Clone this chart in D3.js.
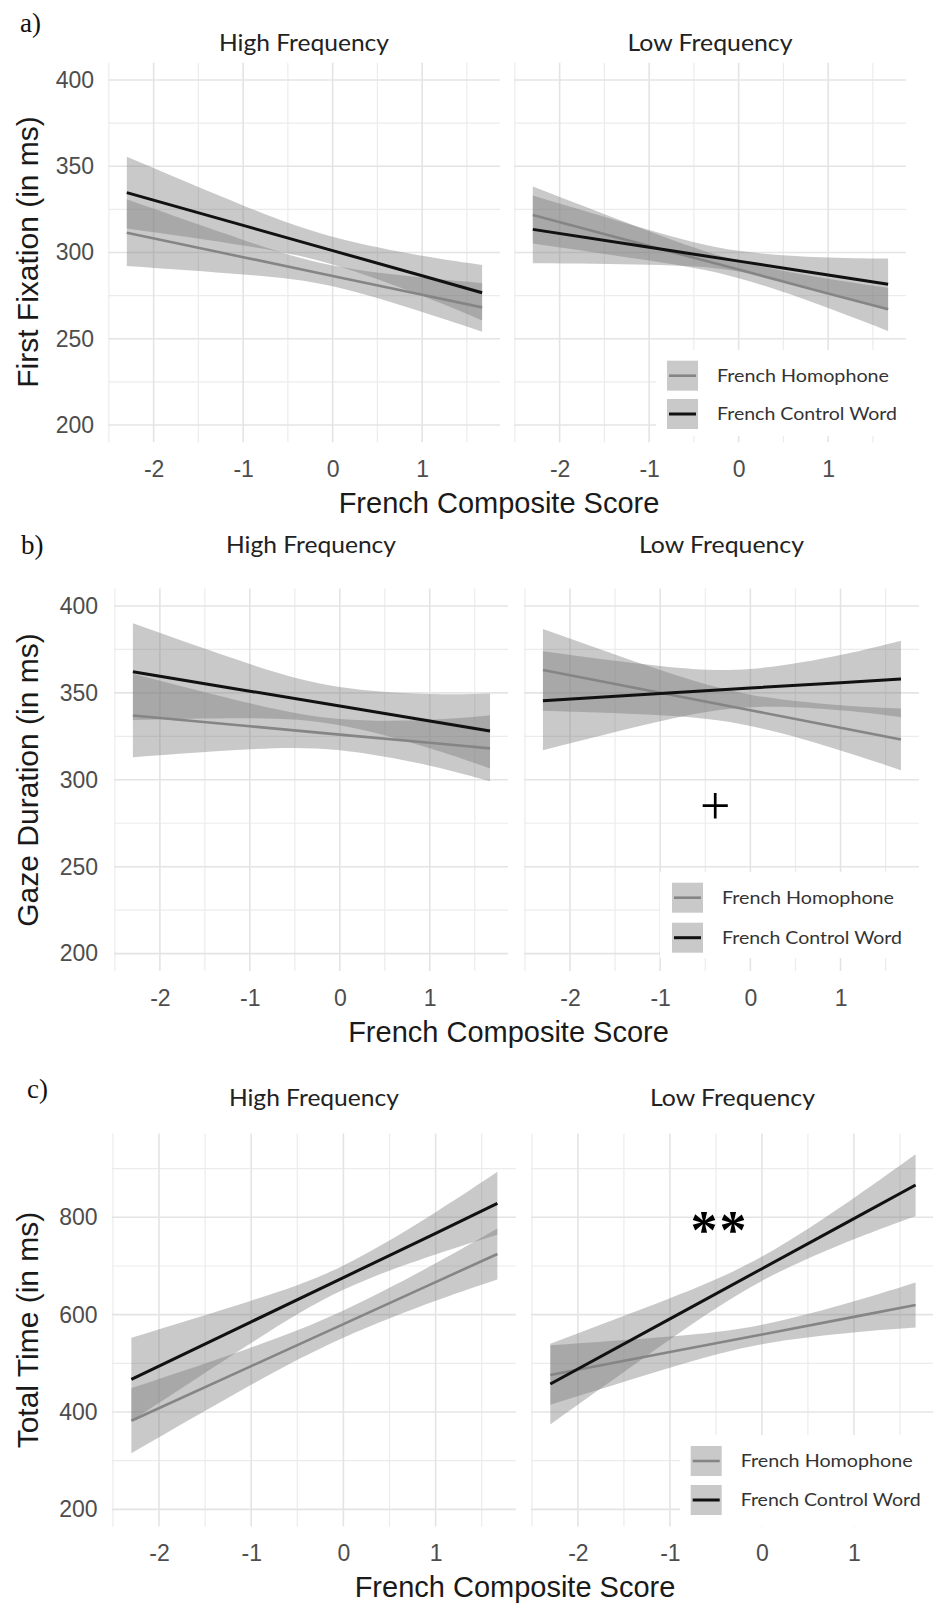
<!DOCTYPE html>
<html>
<head>
<meta charset="utf-8">
<script src="https://cdn.jsdelivr.net/npm/d3@7"></script>
<style>
  html, body { margin: 0; padding: 0; background: #fff; }
  svg { display: block; }
</style>
</head>
<body>
<svg id="chart" width="933" height="1605"></svg>
<script>
const facets = ['High Frequency', 'Low Frequency']
const seriesNames = ['French Homophone', 'French Control Word']
const panelLetters = ['a)', 'b)', 'c)']
const yTitles = ['First Fixation (in ms)', 'Gaze Duration (in ms)', 'Total Time (in ms)']
const xTitle = 'French Composite Score'

const xPoints = [-2.3, -1, 0, 1, 1.67]
const xTicks = [-2, -1, 0, 1]
const xMinor = [-2.5, -1.5, -0.5, 0.5, 1.5]
const yTicksAB = [200, 250, 300, 350, 400]
const yMinorAB = [225, 275, 325, 375]
const yTicksC = [200, 400, 600, 800]
const yMinorC = [300, 500, 700, 900]

// rows follow xPoints, columns are [fit, lower, upper]
// a) first fixation
const ffHighHom = [[311.5, 292.2, 330.8], [297.3, 287.3, 307.3], [286.4, 280.4, 292.4], [275.5, 265.5, 285.5], [268.2, 254.1, 282.3]]
const ffHighCtl = [[334.7, 313.9, 355.5], [315.7, 304.1, 327.3], [301.1, 293.1, 309.1], [286.5, 274.9, 298.1], [276.7, 260.6, 292.8]]
const ffLowHom = [[321.7, 305.2, 338.2], [303.8, 295.3, 312.3], [290.1, 285.1, 295.1], [276.3, 267.8, 284.8], [267.1, 254.5, 279.6]]
const ffLowCtl = [[313.4, 293.7, 333.1], [303.0, 292.9, 313.1], [295.0, 289.0, 301.0], [287.0, 276.9, 297.1], [281.6, 266.7, 296.5]]
// b) gaze duration
const gdHighHom = [[337.0, 313.0, 361.0], [330.8, 317.6, 344.0], [326.0, 317.0, 335.0], [321.3, 308.1, 334.5], [318.1, 299.1, 337.1]]
const gdHighCtl = [[362.2, 334.4, 390.0], [351.0, 335.4, 366.6], [342.4, 331.4, 353.4], [333.8, 318.2, 349.4], [328.1, 306.5, 349.7]]
const gdLowHom = [[363.2, 339.7, 386.7], [350.1, 337.1, 363.1], [340.0, 331.0, 349.0], [329.9, 316.9, 342.9], [323.2, 305.5, 341.0]]
const gdLowCtl = [[345.5, 317.0, 374.0], [349.6, 333.7, 365.5], [352.8, 341.8, 363.8], [355.9, 340.0, 371.8], [358.0, 336.0, 380.0]]
// c) total time
const ttHighHom = [[382.1, 315.1, 449.1], [494.3, 455.8, 532.8], [580.6, 552.6, 608.6], [666.9, 628.4, 705.4], [724.6, 672.3, 776.9]]
const ttHighCtl = [[467.1, 381.6, 552.6], [585.3, 541.8, 628.8], [676.2, 651.2, 701.2], [767.1, 723.6, 810.6], [828.8, 764.1, 893.5]]
const ttLowHom = [[476.0, 415.0, 537.0], [523.1, 491.0, 555.2], [559.3, 539.3, 579.3], [595.5, 563.4, 627.6], [619.8, 573.4, 666.2]]
const ttLowCtl = [[457.5, 374.5, 540.5], [591.4, 548.9, 633.9], [694.4, 669.4, 719.4], [797.4, 754.9, 839.9], [866.4, 802.4, 929.4]]

// significance marks: [row, facet, x, y, text]
const marks = [[1, 1, -0.39, 282.6, '+'], [2, 1, -0.46, 787.7, '**']]

const panelSeries = [
  [[ffHighHom, ffHighCtl], [ffLowHom, ffLowCtl]],
  [[gdHighHom, gdHighCtl], [gdLowHom, gdLowCtl]],
  [[ttHighHom, ttHighCtl], [ttLowHom, ttLowCtl]]
]

const layout = [
  { top: 62.75, bottom: 442.25, yDomain: [190, 410], xRanges: [[108, 500], [514, 906]], stripY: 51, letter: [20, 32],
    yTitleY: 252, yPad: 14, legendBox: [656, 350, 250, 86], keyX: 667, keyY: [360.7, 399] },
  { top: 588.6, bottom: 971, yDomain: [190, 410], xRanges: [[114, 508], [524, 919]], stripY: 553, letter: [21, 554],
    yTitleY: 780, yPad: 16, legendBox: [660, 872, 259, 86], keyX: 672, keyY: [882.7, 922.7] },
  { top: 1133.6, bottom: 1526.4, yDomain: [165, 972], xRanges: [[112, 515.8], [531, 934]], stripY: 1106, letter: [27, 1098],
    yTitleY: 1330, yPad: 14.5, legendBox: [680, 1435, 253, 91], keyX: 690.7, keyY: [1446, 1485] }
]

const xDomain = [-2.51, 1.87]
const ribbonFill = '#797979'
const ribbonOpacity = 0.4
const lineColors = ['#858585', '#111111']
const lineWidths = [2.6, 3]
const sans = '"Liberation Sans", Arial, sans-serif'
const serif = '"Liberation Serif", "Times New Roman", serif'
const calibriLike = 'Lato, "Open Sans", sans-serif'

const svg = d3.select('#chart')

layout.forEach((row, r) => {
  const y = d3.scaleLinear().domain(row.yDomain).range([row.bottom, row.top])
  const yTicks = r === 2 ? yTicksC : yTicksAB
  const yMinor = r === 2 ? yMinorC : yMinorAB

  // panel letter
  svg.append('text')
    .attr('x', row.letter[0]).attr('y', row.letter[1])
    .attr('font-family', serif).attr('font-size', 27).attr('fill', '#111')
    .text(panelLetters[r])

  // y axis title
  svg.append('text')
    .attr('transform', `translate(38,${row.yTitleY}) rotate(-90)`)
    .attr('text-anchor', 'middle')
    .attr('font-family', sans).attr('font-size', 30).attr('fill', '#1a1a1a')
    .text(yTitles[r])

  // x axis title
  svg.append('text')
    .attr('x', (row.xRanges[0][0] + row.xRanges[1][1]) / 2 - 8)
    .attr('y', row.bottom + 71)
    .attr('text-anchor', 'middle')
    .attr('font-family', sans).attr('font-size', 29).attr('fill', '#1a1a1a')
    .text(xTitle)

  facets.forEach((facet, f) => {
    const x = d3.scaleLinear().domain(xDomain).range(row.xRanges[f])
    const g = svg.append('g')
    const [x0, x1] = row.xRanges[f]

    // minor grid
    g.selectAll('.vminor').data(xMinor.filter(v => v >= xDomain[0])).join('line')
      .attr('x1', d => x(d)).attr('x2', d => x(d))
      .attr('y1', row.top).attr('y2', row.bottom)
      .attr('stroke', '#ececec').attr('stroke-width', 1.2)
    g.selectAll('.hminor').data(yMinor).join('line')
      .attr('x1', x0).attr('x2', x1)
      .attr('y1', d => y(d)).attr('y2', d => y(d))
      .attr('stroke', '#ececec').attr('stroke-width', 1.2)
    // major grid
    g.selectAll('.vmajor').data(xTicks).join('line')
      .attr('x1', d => x(d)).attr('x2', d => x(d))
      .attr('y1', row.top).attr('y2', row.bottom)
      .attr('stroke', '#e4e4e4').attr('stroke-width', 1.6)
    g.selectAll('.hmajor').data(yTicks).join('line')
      .attr('x1', x0).attr('x2', x1)
      .attr('y1', d => y(d)).attr('y2', d => y(d))
      .attr('stroke', '#e4e4e4').attr('stroke-width', 1.6)

    // legend background hides the grid
    if (f === 1) {
      const [lx, ly, lw, lh] = row.legendBox
      g.append('rect').attr('x', lx).attr('y', ly).attr('width', lw).attr('height', lh).attr('fill', '#fff')
    }

    // strip title
    svg.append('text')
      .attr('x', (x0 + x1) / 2).attr('y', row.stripY)
      .attr('text-anchor', 'middle')
      .attr('font-family', calibriLike).attr('font-size', 23).attr('fill', '#222')
      .attr('textLength', f === 0 ? 170 : 165).attr('lengthAdjust', 'spacingAndGlyphs')
      .text(facet)

    const series = panelSeries[r][f]
    const area = d3.area()
      .x((d, i) => x(xPoints[i]))
      .y0(d => y(d[1]))
      .y1(d => y(d[2]))
      .curve(d3.curveNatural)
    const line = d3.line()
      .x((d, i) => x(xPoints[i]))
      .y(d => y(d[0]))

    series.forEach(s => {
      g.append('path').datum(s)
        .attr('d', area)
        .attr('fill', ribbonFill).attr('fill-opacity', ribbonOpacity)
    })
    series.forEach((s, k) => {
      g.append('path').datum(s)
        .attr('d', line)
        .attr('fill', 'none')
        .attr('stroke', lineColors[k]).attr('stroke-width', lineWidths[k])
    })

    // x axis labels (plain hyphen minus, as in the original)
    const xAxis = g.append('g')
      .attr('transform', `translate(0,${row.bottom})`)
      .call(d3.axisBottom(x).tickValues(xTicks).tickSize(0).tickPadding(18.5).tickFormat(d => String(d)))
    xAxis.select('.domain').remove()
    xAxis.selectAll('text').attr('font-family', sans).attr('font-size', 23).attr('fill', '#4d4d4d')

    // y axis labels, left facet only
    if (f === 0) {
      const yAxis = g.append('g')
        .attr('transform', `translate(${x0},0)`)
        .call(d3.axisLeft(y).tickValues(yTicks).tickSize(0).tickPadding(row.yPad))
      yAxis.select('.domain').remove()
      yAxis.selectAll('text').attr('font-family', sans).attr('font-size', 23).attr('fill', '#4d4d4d')
    }

    // legend
    if (f === 1) {
      seriesNames.forEach((name, k) => {
        const ky = row.keyY[k]
        g.append('rect')
          .attr('x', row.keyX).attr('y', ky).attr('width', 31).attr('height', 30)
          .attr('fill', ribbonFill).attr('fill-opacity', ribbonOpacity)
        g.append('line')
          .attr('x1', row.keyX + 2).attr('x2', row.keyX + 29)
          .attr('y1', ky + 15).attr('y2', ky + 15)
          .attr('stroke', lineColors[k]).attr('stroke-width', lineWidths[k])
        g.append('text')
          .attr('x', row.keyX + 50).attr('y', ky + 15).attr('dy', '0.35em')
          .attr('font-family', calibriLike).attr('font-size', 18).attr('fill', '#333')
          .attr('textLength', k === 0 ? 172 : 180).attr('lengthAdjust', 'spacingAndGlyphs')
          .text(name)
      })
    }

    // significance marks
    marks.filter(m => m[0] === r && m[1] === f).forEach(m => {
      const plus = m[4] === '+'
      g.append('text')
        .attr('x', x(m[2])).attr('y', y(m[3]) + (plus ? 13.5 : 25))
        .attr('text-anchor', 'middle')
        .attr('font-family', serif).attr('font-size', plus ? 54 : 54)
        .attr('font-weight', plus ? 'normal' : 'bold').attr('fill', '#000')
        .attr('letter-spacing', plus ? 0 : 2)
        .text(m[4])
    })
  })
})
</script>
</body>
</html>
